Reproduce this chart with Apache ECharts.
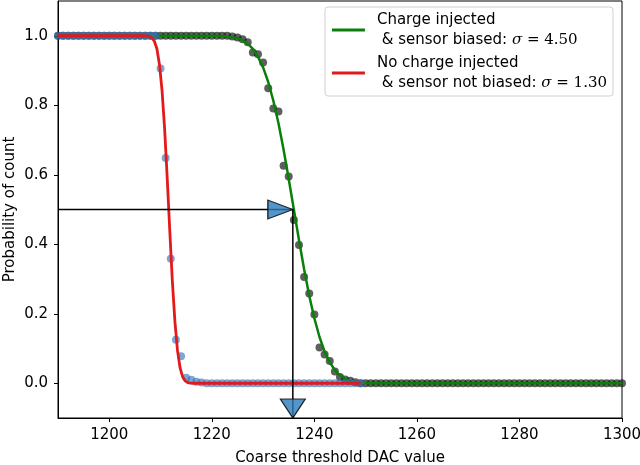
<!DOCTYPE html>
<html>
<head>
    <meta charset="UTF-8">
    <title>Threshold scan</title>
    <script src="https://cdn.jsdelivr.net/npm/echarts@6.0.0/dist/echarts.min.js"></script>
    <style>
        body { margin: 0; background: #fff; }
        #chart { width: 640px; height: 465px; }
    </style>
</head>
<body>
    <div id="chart"></div>
    <script>
        // DAC steps of the black (charge injected) scan
        const chargedSteps = [
            1190, 1191, 1192, 1193, 1194, 1195, 1196, 1197, 1198, 1199,
            1200, 1201, 1202, 1203, 1204, 1205, 1206, 1207, 1208, 1209,
            1210, 1211, 1212, 1213, 1214, 1215, 1216, 1217, 1218, 1219,
            1220, 1221, 1222, 1223, 1224, 1225, 1226, 1227, 1228, 1229,
            1230, 1231, 1232, 1233, 1234, 1235, 1236, 1237, 1238, 1239,
            1240, 1241, 1242, 1243, 1244, 1245, 1246, 1247, 1248, 1249,
            1250, 1251, 1252, 1253, 1254, 1255, 1256, 1257, 1258, 1259,
            1260, 1261, 1262, 1263, 1264, 1265, 1266, 1267, 1268, 1269,
            1270, 1271, 1272, 1273, 1274, 1275, 1276, 1277, 1278, 1279,
            1280, 1281, 1282, 1283, 1284, 1285, 1286, 1287, 1288, 1289,
            1290, 1291, 1292, 1293, 1294, 1295, 1296, 1297, 1298, 1299,
            1300
        ];
        const chargedProb = [
            1, 1, 1, 1, 1, 1, 1, 1, 1, 1,
            1, 1, 1, 1, 1, 1, 1, 1, 1, 1,
            1, 1, 1, 1, 1, 1, 1, 1, 1, 1,
            1, 1, 1, 1, 0.998, 0.995, 0.99, 0.981, 0.952, 0.947,
            0.923, 0.849, 0.791, 0.782, 0.626, 0.595, 0.47, 0.398, 0.306, 0.258,
            0.198, 0.103, 0.083, 0.064, 0.034, 0.018, 0.011, 0.007, 0.003, 0,
            0, 0, 0, 0, 0, 0, 0, 0, 0, 0,
            0, 0, 0, 0, 0, 0, 0, 0, 0, 0,
            0, 0, 0, 0, 0, 0, 0, 0, 0, 0,
            0, 0, 0, 0, 0, 0, 0, 0, 0, 0,
            0, 0, 0, 0, 0, 0, 0, 0, 0, 0,
            0
        ];

        // blue (no charge) scan
        const noiseSteps = [
            1190, 1191, 1192, 1193, 1194, 1195, 1196, 1197, 1198, 1199,
            1200, 1201, 1202, 1203, 1204, 1205, 1206, 1207, 1208, 1209,
            1210, 1211, 1212, 1213, 1214, 1215, 1216, 1217, 1218, 1219,
            1220, 1221, 1222, 1223, 1224, 1225, 1226, 1227, 1228, 1229,
            1230, 1231, 1232, 1233, 1234, 1235, 1236, 1237, 1238, 1239,
            1240, 1241, 1242, 1243, 1244, 1245, 1246, 1247, 1248, 1249
        ];
        const noiseProb = [
            1, 1, 1, 1, 1, 1, 1, 1, 1, 1,
            1, 1, 1, 1, 1, 1, 1, 1, 1, 1,
            0.906, 0.648, 0.358, 0.125, 0.078, 0.016, 0.01, 0.004, 0.002, 0,
            0, 0, 0, 0, 0, 0, 0, 0, 0, 0,
            0, 0, 0, 0, 0, 0, 0, 0, 0, 0,
            0, 0, 0, 0, 0, 0, 0, 0, 0, 0
        ];

        // fitted curves
        const chargedFitX = [1190, 1216, 1218, 1220, 1222, 1224, 1225, 1226, 1227, 1228, 1229,
            1230, 1231, 1232, 1233, 1234, 1235, 1236, 1237, 1238, 1239,
            1240, 1241, 1242, 1243, 1244, 1245, 1246, 1247, 1248, 1249, 1250, 1252, 1300];
        const chargedFitY = [1, 1, 1, 0.9998, 0.999, 0.996, 0.993, 0.987, 0.977, 0.962, 0.94,
            0.909, 0.867, 0.813, 0.748, 0.672, 0.588, 0.5, 0.412, 0.328, 0.252,
            0.187, 0.133, 0.091, 0.06, 0.038, 0.023, 0.013, 0.007, 0.004, 0.002, 0.001, 0, 0];

        const noiseFitX = [1190, 1205.3, 1206.3, 1207.3, 1207.8, 1208.3, 1208.8, 1209.3, 1209.8, 1210.3, 1210.8,
            1211.3, 1211.8, 1212.3, 1212.8, 1213.3, 1213.8, 1214.3, 1214.8, 1215.3, 1215.8, 1216.3, 1217.3, 1249];
        const noiseFitY = [1, 1, 1, 0.9995, 0.998, 0.9945, 0.984, 0.962, 0.916, 0.841, 0.731,
            0.591, 0.439, 0.295, 0.178, 0.095, 0.045, 0.019, 0.007, 0.002, 0.0005, 0, 0, 0];

        // 50% point of the charged fit, and axis limits
        const halfPoint = [1235.8, 0.5];
        const xLimits = [1190, 1300];
        const yLimits = [-0.1, 1.1];
        const xTicks = [1200, 1220, 1240, 1260, 1280, 1300];
        const yTicks = [0, 0.2, 0.4, 0.6, 0.8, 1.0];

        const legendText = {
            charged: '{g|}Charge injected\n{g|} & sensor biased: {s|σ}{m| = 4.50}',
            noise: '{g|}No charge injected\n{g|} & sensor not biased: {s|σ}{m| = 1.30}'
        };

        const zip = (xs, ys) => xs.map((x, i) => [x, ys[i]]);

        const font = 'DejaVu Sans';
        const fs = 15;
        const chart = echarts.init(document.getElementById('chart'));

        chart.setOption({
            animation: false,
            grid: {
                left: 58, right: 18, top: 1, bottom: 47,
                containLabel: false, outerBoundsMode: 'none',
                show: true, borderColor: '#000', borderWidth: 1
            },
            legend: {
                orient: 'vertical',
                right: 27, top: 7,
                data: ['charged', 'noise'],
                icon: 'rect',
                itemWidth: 33, itemHeight: 3,
                itemGap: 3,
                padding: [3, 6, 3, 7],
                borderColor: '#d0d0d0', borderWidth: 1, borderRadius: 3,
                backgroundColor: '#fff',
                formatter: name => legendText[name],
                textStyle: {
                    fontFamily: font, fontSize: fs, color: '#000', lineHeight: 20,
                    rich: {
                        g: { width: 7, lineHeight: 20 },
                        s: { fontFamily: 'DejaVu Serif', fontStyle: 'italic', fontSize: fs, lineHeight: 20 },
                        m: { fontFamily: 'DejaVu Serif', fontSize: fs, lineHeight: 20 }
                    }
                }
            },
            xAxis: {
                type: 'value',
                min: xLimits[0], max: xLimits[1],
                name: 'Coarse threshold DAC value',
                nameLocation: 'middle', nameGap: 33,
                nameMoveOverlap: false,
                nameTextStyle: { fontFamily: font, fontSize: fs, color: '#000' },
                splitLine: { show: false },
                axisLine: { onZero: false, lineStyle: { color: '#000' } },
                axisTick: { customValues: xTicks, length: 4, lineStyle: { color: '#000' } },
                axisLabel: {
                    customValues: xTicks, fontFamily: font, fontSize: fs, color: '#000', margin: 10,
                    formatter: v => String(v)
                }
            },
            yAxis: {
                type: 'value',
                min: yLimits[0], max: yLimits[1],
                name: 'Probability of count',
                nameLocation: 'middle', nameGap: 40,
                nameMoveOverlap: false,
                nameTextStyle: { fontFamily: font, fontSize: fs, color: '#000' },
                splitLine: { show: false },
                axisLine: { show: true, onZero: false, lineStyle: { color: '#000' } },
                axisTick: { show: true, customValues: yTicks, length: 4, lineStyle: { color: '#000' } },
                axisLabel: {
                    customValues: yTicks, fontFamily: font, fontSize: fs, color: '#000', margin: 10,
                    formatter: v => v.toFixed(1)
                }
            },
            series: [
                {
                    name: 'chargedPoints',
                    type: 'scatter',
                    data: zip(chargedSteps, chargedProb),
                    symbolSize: 8,
                    itemStyle: { color: 'rgba(20,20,20,0.85)' },
                    z: 2
                },
                {
                    name: 'charged',
                    type: 'line',
                    data: zip(chargedFitX, chargedFitY),
                    color: '#0a800a',
                    showSymbol: false,
                    lineStyle: { width: 2.5 },
                    z: 3
                },
                {
                    name: 'noisePoints',
                    type: 'scatter',
                    data: zip(noiseSteps, noiseProb),
                    symbolSize: 8,
                    itemStyle: { color: 'rgba(50,117,188,0.8)' },
                    z: 4
                },
                {
                    name: 'noise',
                    type: 'line',
                    data: zip(noiseFitX, noiseFitY),
                    color: '#e31a1c',
                    showSymbol: false,
                    lineStyle: { width: 2.8 },
                    z: 5
                },
                {
                    name: 'arrowH',
                    type: 'line',
                    data: [[xLimits[0], halfPoint[1]], halfPoint],
                    showSymbol: false,
                    color: '#000',
                    lineStyle: { width: 1.5 },
                    z: 6
                },
                {
                    name: 'arrowV',
                    type: 'line',
                    data: [halfPoint, [halfPoint[0], yLimits[0]]],
                    showSymbol: false,
                    color: '#000',
                    lineStyle: { width: 1.5 },
                    z: 6
                },
                {
                    name: 'headH',
                    type: 'scatter',
                    data: [halfPoint],
                    symbol: 'triangle',
                    symbolSize: [19, 25],
                    symbolRotate: -90,
                    symbolOffset: [-12.5, 0],
                    clip: false,
                    itemStyle: { color: '#2b7bba', borderColor: '#000', borderWidth: 1.2 },
                    z: 7
                },
                {
                    name: 'headV',
                    type: 'scatter',
                    data: [[halfPoint[0], yLimits[0]]],
                    symbol: 'triangle',
                    symbolSize: [25, 19],
                    symbolRotate: 180,
                    symbolOffset: [0, -9.5],
                    clip: false,
                    itemStyle: { color: '#2b7bba', borderColor: '#000', borderWidth: 1.2 },
                    z: 7
                }
            ]
        });
    </script>
</body>
</html>
